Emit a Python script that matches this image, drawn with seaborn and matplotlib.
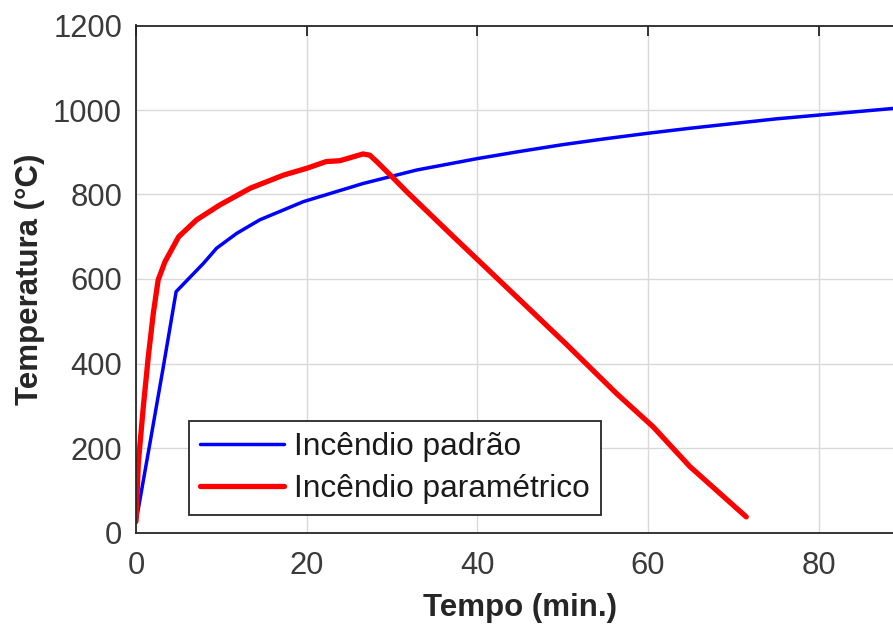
import numpy as np
import pandas as pd
import matplotlib
matplotlib.use("Agg")
import matplotlib.pyplot as plt
from matplotlib.lines import Line2D
import seaborn as sns

# Standard fire curve (time in min, temperature in °C)
t_padrao = [0, 1.84, 3.2, 4.7, 7.9, 9.45, 11.8, 14.5, 19.6, 26.6, 32.9, 40, 45, 50, 55,
            60, 65, 70, 75, 80, 85, 90]
T_padrao = [25, 235, 392, 570, 637, 673, 708, 740, 783, 826, 858, 885, 902, 918, 932,
            945, 957, 968, 979, 988, 997, 1006]

# Parametric fire curve
t_param = [0, 0.27, 0.86, 1.44, 2.03, 2.6, 3.4, 5.0, 7.1, 9.8, 13.4, 17.3, 20.0, 22.3, 23.9,
           26.6, 27.4, 28.3, 30.0, 31.7, 37.2, 45.0, 50.5, 56.3, 60.6, 64.9, 71.5]
T_param = [26, 164, 298, 416, 519, 598, 641, 700, 740, 775, 815, 846, 862, 878, 880,
           896, 893, 876, 842, 807, 700, 550, 444, 329, 250, 156, 37]

labels = ["Incêndio padrão", "Incêndio paramétrico"]
x_ticks = [0, 20, 40, 60, 80]
y_ticks = [0, 200, 400, 600, 800, 1000, 1200]

df = pd.concat([
    pd.DataFrame({"t": t_padrao, "T": T_padrao, "curva": labels[0]}),
    pd.DataFrame({"t": t_param, "T": T_param, "curva": labels[1]}),
], ignore_index=True)

sns.set_style("white")
plt.rcParams["font.family"] = ["Liberation Sans", "DejaVu Sans"]

W, H = 893, 628
fig = plt.figure(figsize=(W / 100, H / 100), dpi=100)
x0_px, x_per_unit = 136, 8.535
y0_px, y1200_px = 532.5, 25.5
ax = fig.add_axes([x0_px / W, (H - y0_px) / H, 90 * x_per_unit / W, (y0_px - y1200_px) / H])

colors = {labels[0]: "#0000ff", labels[1]: "#ff0000"}
widths = {labels[0]: 2.5, labels[1]: 3.8}
sns.lineplot(data=df, x="t", y="T", hue="curva", size="curva",
             palette=colors, sizes=widths,
             ax=ax, sort=False, estimator=None, legend=False)

ax.set_xlim(0, 90)
ax.set_ylim(0, 1200)
ax.set_xticks(x_ticks)
ax.set_yticks(y_ticks)

edge = "#262626"
for side in ["left", "bottom", "top", "right"]:
    ax.spines[side].set_color(edge)
    ax.spines[side].set_linewidth(1.3)
ax.grid(True, color="#d9d9d9", linewidth=1.0)
ax.set_axisbelow(True)
ax.tick_params(axis="both", direction="in", length=7, width=1.3, color=edge,
               labelsize=22.3, labelcolor="#3a3a3a")
ax.tick_params(axis="x", top=True, pad=13)
ax.tick_params(axis="y", pad=10)

ax.set_xlabel("Tempo (min.)", fontsize=22.5, fontweight="bold", color=edge, labelpad=9)
ax.set_ylabel("Temperatura (°C)", fontsize=22.5, fontweight="bold", color=edge, labelpad=6)

handles = [Line2D([], [], color=colors[l], lw=widths[l]) for l in labels]
leg = fig.legend(handles, labels, loc="lower left",
                 bbox_to_anchor=(189 / W, 1 - 515 / H), bbox_transform=fig.transFigure,
                 borderaxespad=0, fontsize=22.8, frameon=True, fancybox=False,
                 handlelength=2.65, handletextpad=0.32, labelspacing=0.38, borderpad=0.35)
leg.get_frame().set_edgecolor(edge)
leg.get_frame().set_linewidth(1.3)
leg.get_frame().set_facecolor("white")
leg.get_frame().set_alpha(1)
for txt in leg.get_texts():
    txt.set_color("#1a1a1a")

fig.savefig("out.png", dpi=100)
